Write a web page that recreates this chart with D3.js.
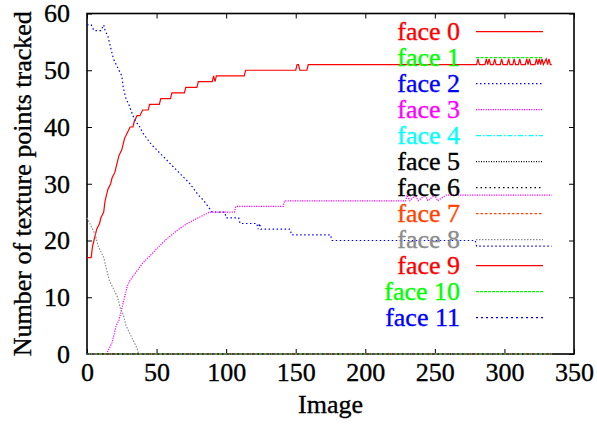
<!DOCTYPE html>
<html>
<head>
<meta charset="utf-8">
<script src="https://cdn.jsdelivr.net/npm/d3@7"></script>
<style>
  html, body { margin: 0; padding: 0; background: #fff; }
  svg { display: block; }
  svg text { font-family: "Liberation Serif", "Times New Roman", Times, serif; }
</style>
</head>
<body>
<svg id="chart" width="597" height="425"></svg>
<script>
// ---------- DATA ----------
const xTicks = [0, 50, 100, 150, 200, 250, 300, 350];
const yTicks = [0, 10, 20, 30, 40, 50, 60];
const faceNames = ["face 0","face 1","face 2","face 3","face 4","face 5","face 6","face 7","face 8","face 9","face 10","face 11"];

// breakpoints [image, points tracked]
const face0 = [[0,17],[3,17],[4,19],[5,20],[7,22],[9,23],[10,24],[12,25],[13,27],[15,29],[17,30],[18,31],[20,32],[21,33],[23,35],[25,36],[26,37],[27,38],[29,39],[31,40],[33,40],[34,41],[36,42],[38,42],[40,43],[44,43],[45,44],[52,44],[53,45],[60,45],[61,46],[70,46],[71,47],[79,47],[80,48],[90,48],[91,49],[92,48],[93,49],[113,49],[114,50],[150,50],[151,51],[152,51],[153,50],[158,50],[159,51],[280,51],[281,52],[282,51],[286,51],[287,52],[288,51],[289,52],[290,51],[292,51],[293,52],[294,51],[297,51],[298,52],[299,51],[302,51],[303,52],[304,51],[306,51],[307,52],[308,51],[310,51],[311,52],[312,51],[315,51],[316,52],[317,51],[318,52],[319,51],[322,51],[323,52],[324,51],[325,52],[326,51],[327,52],[328,51],[330,52],[331,51],[332,52],[333,51],[334,51]];
const face1 = [[0,0],[334,0]];
const face2 = [[0,58],[3,58],[5,57],[10,57],[12,58],[13,57],[15,56],[17,54],[19,52],[21,51],[23,50],[25,49],[26,47],[28,45],[30,44],[33,42],[35,41],[38,40],[40,39],[43,38],[46,37],[50,36],[54,35],[58,34],[62,33],[66,32],[70,31],[74,30],[77,29],[80,28],[84,27],[87,26],[90,25],[99,25],[100,24],[109,24],[110,23],[122,23],[123,22],[124,23],[125,22],[146,22],[147,21],[175,21],[176,20],[279,20],[280,19],[334,19]];
const face3 = [[0,0],[14,0],[16,1],[18,2],[19,3],[21,5],[23,6],[25,8],[27,10],[29,12],[31,13],[34,14],[37,15],[40,16],[44,17],[48,18],[52,19],[56,20],[61,21],[66,22],[72,23],[80,24],[88,25],[106,25],[107,26],[141,26],[142,27],[229,27],[230,28],[232,27],[236,28],[238,27],[243,28],[245,27],[250,28],[252,27],[258,28],[334,28]];
const face4 = [[0,0],[334,0]];
const face5 = [[0,0],[334,0]];
const face6 = [[0,0],[334,0]];
const face7 = [[0,0],[334,0]];
const face8 = [[0,24],[2,23],[4,22],[6,21],[8,19],[10,18],[12,17],[14,15],[16,13],[18,12],[20,11],[22,10],[24,8],[26,7],[28,5],[30,4],[32,3],[34,2],[36,1],[37,0],[334,0]];
const face9 = [[0,0],[334,0]];
const face10 = [[0,0],[334,0]];
const face11 = [[0,0],[334,0]];
const faceData = [face0,face1,face2,face3,face4,face5,face6,face7,face8,face9,face10,face11];

// ---------- STYLES ----------
const colors = ["#ff0000","#00ff00","#0000ff","#ff00ff","#00ffff","#000000","#000000","#ff4500","#8c8c8c","#ff0000","#00ff00","#0000ff"];
const dashes = [null,"3,1.5","1.5,2.5","1.2,1.2","5,2,1.5,2","1,1.5","1.5,3","2.5,2","1.5,1.5",null,"3,1","2,3"];

// ---------- CHART ----------
const svg = d3.select("#chart");
const L = 87, R = 574, T = 13.5, B = 354;
const x = d3.scaleLinear().domain([0,350]).range([L,R]);
const y = d3.scaleLinear().domain([0,60]).range([B,T]);
const fs = 26;
const FF = "'Liberation Serif', 'Times New Roman', Times, serif";
const TS = 0.35; // slight stroke to mimic heavier bitmap text

function styleText(sel, col) {
  sel.attr("font-size",fs).style("font-family",FF).attr("fill",col)
     .attr("stroke",col).attr("stroke-width",TS);
}

// axes (ticks inward)
const gx = svg.append("g").attr("transform",`translate(0,${B})`)
  .call(d3.axisBottom(x).tickValues(xTicks).tickSize(-5).tickPadding(9).tickFormat(d3.format("d")));
const gxt = svg.append("g").attr("transform",`translate(0,${T})`)
  .call(d3.axisTop(x).tickValues(xTicks).tickSize(-5).tickFormat(""));
const gy = svg.append("g").attr("transform",`translate(${L},0)`)
  .call(d3.axisLeft(y).tickValues(yTicks).tickSize(-5).tickPadding(17).tickFormat(d3.format("d")));
const gyr = svg.append("g").attr("transform",`translate(${R},0)`)
  .call(d3.axisRight(y).tickValues(yTicks).tickSize(-5).tickFormat(""));
[gx,gxt,gy,gyr].forEach(g => {
  g.attr("font-family",FF);
  g.select(".domain").remove();
  g.selectAll(".tick line").attr("stroke","#000").attr("stroke-width",1);
  styleText(g.selectAll("text"), "#000");
});
gx.selectAll("text").attr("dy","0.71em");

// frame
svg.append("rect").attr("x",L).attr("y",T).attr("width",R-L).attr("height",B-T)
  .attr("fill","none").attr("stroke","#000").attr("stroke-width",1.6);

// axis titles
styleText(svg.append("text").attr("x",(L+R)/2).attr("y",413).attr("text-anchor","middle")
  .text("Image"), "#000");
styleText(svg.append("text").attr("transform",`translate(31,${(T+B)/2}) rotate(-90)`)
  .attr("text-anchor","middle").text("Number of texture points tracked"), "#000");

// legend + lines
const line = d3.line().x(d => x(d[0])).y(d => y(d[1]));
const legX = 460, sx0 = 476, sx1 = 543, ly0 = 31.7, lstep = 26;
faceData.forEach((data,i) => {
  const ly = ly0 + i*lstep;
  styleText(svg.append("text").attr("x",legX).attr("y",ly).attr("dy","0.33em")
    .attr("text-anchor","end").text(faceNames[i]), colors[i]);
  svg.append("line").attr("x1",sx0).attr("x2",sx1).attr("y1",ly).attr("y2",ly)
    .attr("stroke",colors[i]).attr("stroke-width",1.2)
    .attr("stroke-dasharray",dashes[i]);
  svg.append("path").datum(data).attr("d",line).attr("fill","none")
    .attr("stroke",colors[i]).attr("stroke-width",1.2)
    .attr("stroke-dasharray",dashes[i]);
});
</script>
</body>
</html>
